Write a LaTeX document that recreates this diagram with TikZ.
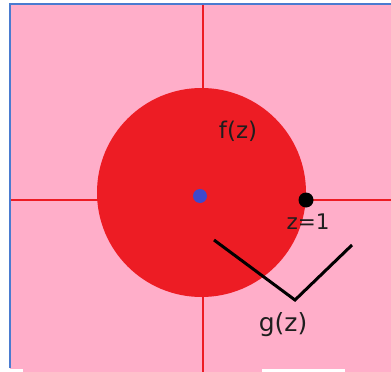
\documentclass[tikz,border=0pt]{standalone}
\usepackage{fontspec}
\setmainfont{DejaVu Sans}
\definecolor{bgpink}{HTML}{FFAEC9}
\definecolor{disc}{HTML}{ED1C24}
\definecolor{dotblue}{HTML}{3F48CC}
\definecolor{frameblue}{HTML}{4A7BD0}
\definecolor{txt}{HTML}{1E1E1E}
\tikzset{
  axis/.style={draw=disc, line width=2.6pt},
  lbl/.style={text=txt, inner sep=0pt},
  brace/.style={draw=black, line width=3pt, line join=miter}
}
\begin{document}
\begin{tikzpicture}[x=1pt,y=-1pt]
\useasboundingbox (0,0) rectangle (391,372);
\fill[white] (0,0) rectangle (391,372);
\fill[bgpink] (10,4) rectangle (391,372);
\fill[white] (0,369) rectangle (23,372);
\fill[white] (262,369) rectangle (345,372);
% axes
\draw[axis] (203,4) -- (203,372);
\draw[axis] (10,200) -- (391,200);
% disc
\fill[disc] (201.5,192.5) circle (104.5);
% frame
\draw[frameblue, line width=2.4pt] (10,368) -- (10,4) -- (391,4);
% points
\node[circle, fill=dotblue, minimum size=14pt, inner sep=0pt] (o) at (200,196) {};
\node[circle, fill=black, minimum size=15pt, inner sep=0pt] (one) at (306,200) {};
% labels
\node[lbl, font=\fontsize{23}{23}\selectfont] (f) at (238,131) {f(z)};
\node[lbl, font=\fontsize{21.5}{21.5}\selectfont] (z1) at (308,222) {z=1};
\node[lbl, font=\fontsize{25}{25}\selectfont] (g) at (283,325) {g(z)};
% bracket
\coordinate (a) at (214,240);
\coordinate (b) at (295,300);
\coordinate (c) at (352,245);
\draw[brace] (a) -- (b) -- (c);
\end{tikzpicture}
\end{document}
